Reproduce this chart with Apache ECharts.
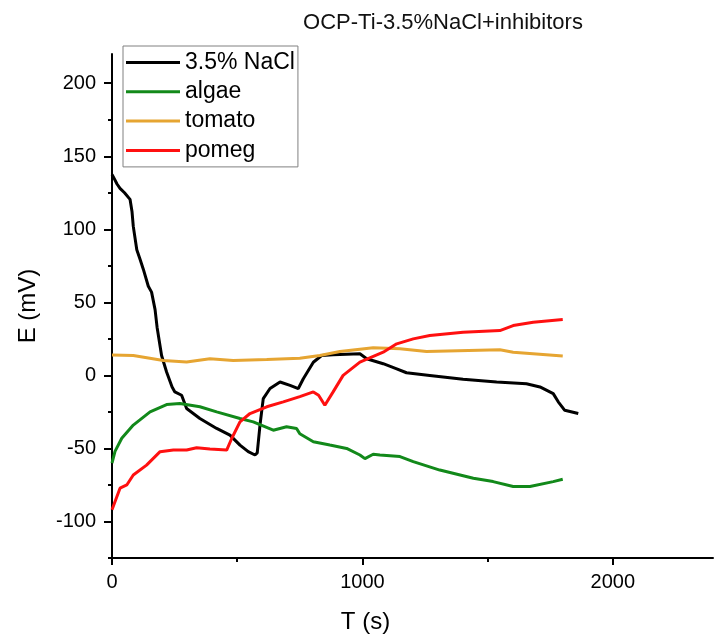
<!DOCTYPE html>
<html>
<head>
<meta charset="utf-8">
<title>OCP-Ti-3.5%NaCl+inhibitors</title>
<script src="https://cdn.jsdelivr.net/npm/echarts@6/dist/echarts.min.js"></script>
<style>
  html, body { margin: 0; padding: 0; background: #fff; }
  #chart { width: 715px; height: 639px; }
</style>
</head>
<body>
<div id="chart"></div>
<script>
// Open-circuit potential of Ti in 3.5% NaCl, with and without inhibitors
const seriesNames = ['3.5% NaCl', 'algae', 'tomato', 'pomeg'];
const seriesColors = ['#000000', '#12891a', '#e6a532', '#ff1010'];

// time (s) / potential (mV) pairs per series
const naclT = [0, 8, 20, 32, 50, 72, 80, 85, 99, 112, 125, 145, 158, 172, 180, 198, 218, 240, 251, 278, 298, 351, 418, 471, 511, 544, 571, 580, 591, 604, 631, 671, 711, 744, 764, 804, 837, 883, 990, 1017, 1083, 1137, 1176, 1269, 1402, 1536, 1655, 1709, 1762, 1782, 1808, 1862];
const naclE = [137.5, 135, 131, 128, 125, 120.5, 112, 102, 86, 79.5, 72.7, 61, 57, 45, 33, 13.6, 2.3, -8, -11.3, -13.6, -22.7, -29.5, -36.3, -40.9, -47.7, -52.2, -54.5, -53, -34, -15.9, -9, -4.5, -6.8, -9, -2.3, 9, 13.6, 14.1, 14.8, 11.4, 8, 4.5, 1.8, 0, -2.7, -4.5, -5.7, -7.9, -12.5, -18.1, -23.9, -26.1];

const algaeT = [0, 12, 39, 85, 152, 218, 271, 351, 418, 511, 564, 644, 697, 737, 750, 804, 870, 937, 990, 1010, 1043, 1070, 1150, 1203, 1309, 1443, 1522, 1602, 1669, 1762, 1800];
const algaeE = [-60, -52, -43, -34, -25, -20, -19.3, -21.5, -25, -29.5, -31.8, -37.5, -35.2, -36.3, -40, -45.4, -47.7, -50, -54.5, -57, -54, -54.5, -55.6, -59, -64.8, -70.4, -72.7, -76.1, -76.1, -72.7, -71.1];

const tomatoT = [0, 85, 205, 298, 391, 484, 618, 750, 830, 910, 1043, 1150, 1256, 1549, 1602, 1800];
const tomatoE = [14, 13.6, 10.2, 9.1, 11.4, 10.2, 10.9, 11.8, 13.6, 16.4, 18.9, 18.2, 16.4, 17.5, 15.9, 13.2];

const pomegT = [0, 32, 59, 85, 138, 192, 245, 298, 338, 391, 458, 478, 511, 551, 618, 684, 750, 804, 825, 850, 883, 923, 990, 1083, 1137, 1203, 1269, 1402, 1549, 1602, 1682, 1800];
const pomegE = [-92, -77.2, -75, -68.2, -61.4, -52.2, -51.1, -51.1, -49.5, -50.4, -51.1, -43.2, -31.8, -26.1, -21.5, -18.1, -14.5, -11.3, -13.6, -20.4, -11.3, 0, 9.1, 15.9, 21.6, 25, 27.3, 29.6, 30.7, 34.1, 36.4, 38.2];

// axis ticks
const xMajorTicks = [0, 1000, 2000];
const xMinorTicks = [500, 1500];
const yMajorTicks = [-100, -50, 0, 50, 100, 150, 200];
const yMinorTicks = [-125, -75, -25, 25, 75, 125, 175];

const FONT = '"Liberation Sans", Arial, sans-serif';

function pairs(t, e) {
  return t.map((v, i) => [v, e[i]]);
}
const seriesData = [pairs(naclT, naclE), pairs(algaeT, algaeE), pairs(tomatoT, tomatoE), pairs(pomegT, pomegE)];

const xRange = { min: 0, max: 2400 };
const yRange = { min: -125, max: 220 };

const chart = echarts.init(document.getElementById('chart'), null, { renderer: 'canvas' });

chart.setOption({
  animation: false,
  backgroundColor: '#ffffff',
  title: {
    text: 'OCP-Ti-3.5%NaCl+inhibitors',
    left: 438,
    top: 7,
    textAlign: 'center',
    textStyle: { fontFamily: FONT, fontSize: 22, fontWeight: 'normal', color: '#111' }
  },
  legend: {
    orient: 'vertical',
    left: 123,
    top: 46,
    data: seriesNames,
    icon: 'rect',
    itemWidth: 54,
    itemHeight: 3,
    itemGap: 6.3,
    padding: [5, 3, 5, 3],
    borderColor: '#808080',
    borderWidth: 1,
    backgroundColor: '#fff',
    textStyle: { fontFamily: FONT, fontSize: 23, color: '#000', lineHeight: 23 }
  },
  grid: { left: 112, right: 2, top: 54, bottom: 79, containLabel: false },
  xAxis: [
    {
      type: 'value',
      min: xRange.min, max: xRange.max,
      name: 'T (s)',
      nameLocation: 'middle',
      nameGap: 52,
      nameTextStyle: { fontFamily: FONT, fontSize: 24, color: '#000', padding: [0, 94, 0, 0] },
      axisLine: { onZero: false, lineStyle: { color: '#000', width: 2 } },
      axisTick: { inside: false, length: 7, lineStyle: { color: '#000', width: 2 }, customValues: xMajorTicks },
      axisLabel: { margin: 14, fontFamily: FONT, fontSize: 20, color: '#000', customValues: xMajorTicks, formatter: v => String(v) },
      splitLine: { show: false }
    },
    {
      type: 'value',
      position: 'bottom',
      min: xRange.min, max: xRange.max,
      axisLine: { show: false, onZero: false },
      axisTick: { inside: false, length: 4, lineStyle: { color: '#000', width: 2 }, customValues: xMinorTicks },
      axisLabel: { show: false },
      splitLine: { show: false }
    }
  ],
  yAxis: [
    {
      type: 'value',
      min: yRange.min, max: yRange.max,
      name: 'E (mV)',
      nameLocation: 'middle',
      nameGap: 72,
      nameTextStyle: { fontFamily: FONT, fontSize: 24, color: '#000' },
      axisLine: { onZero: false, lineStyle: { color: '#000', width: 2 } },
      axisTick: { inside: false, length: 8, lineStyle: { color: '#000', width: 2 }, customValues: yMajorTicks },
      axisLabel: { margin: 16, fontFamily: FONT, fontSize: 20, color: '#000', customValues: yMajorTicks },
      splitLine: { show: false }
    },
    {
      type: 'value',
      position: 'left',
      offset: 0,
      min: yRange.min, max: yRange.max,
      axisLine: { show: false, onZero: false },
      axisTick: { inside: false, length: 4, lineStyle: { color: '#000', width: 2 }, customValues: yMinorTicks },
      axisLabel: { show: false },
      splitLine: { show: false }
    }
  ],
  series: seriesNames.map((name, i) => ({
    name: name,
    type: 'line',
    xAxisIndex: 0,
    yAxisIndex: 0,
    data: seriesData[i],
    showSymbol: false,
    symbol: 'none',
    smooth: false,
    lineStyle: { color: seriesColors[i], width: 3 },
    itemStyle: { color: seriesColors[i] },
    z: 2 + i
  }))
});
</script>
</body>
</html>
